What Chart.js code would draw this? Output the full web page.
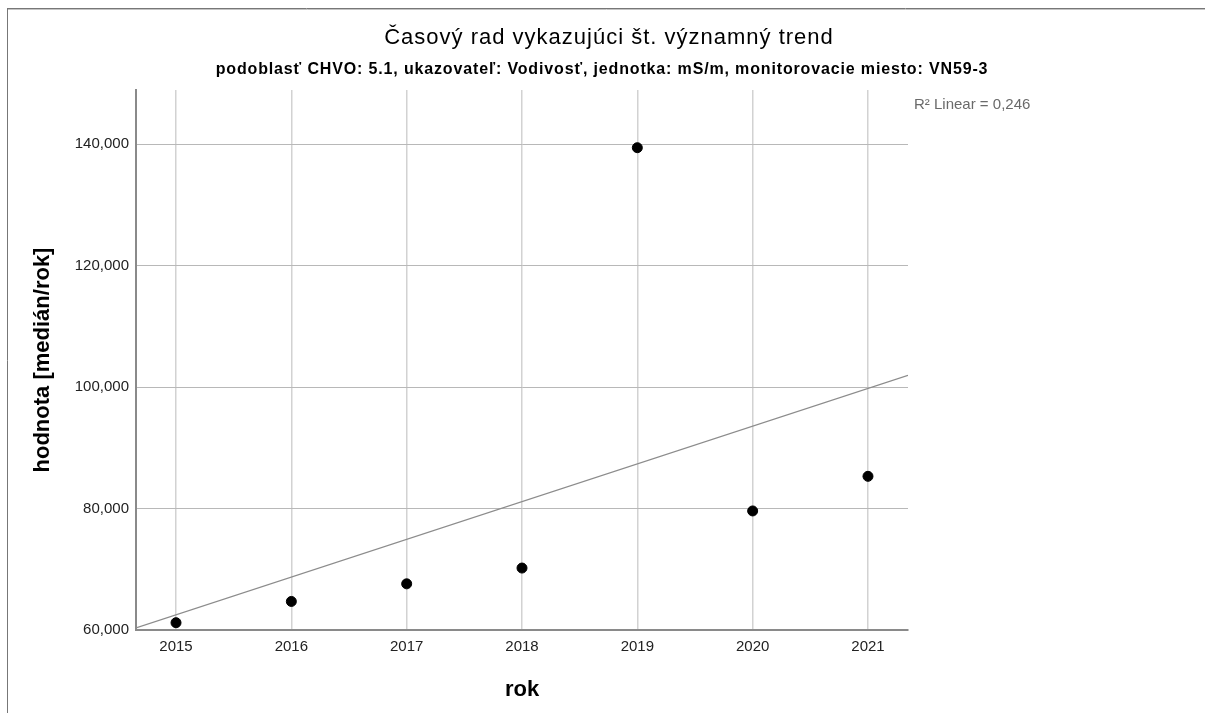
<!DOCTYPE html>
<html>
<head>
<meta charset="utf-8">
<script src="https://cdn.jsdelivr.net/npm/chart.js@4.4.1/dist/chart.umd.min.js"></script>
<style>
html, body { margin:0; padding:0; background:#fff; }
canvas { display:block; }
</style>
</head>
<body>
<canvas id="trendChart" width="1205" height="713"></canvas>
<script>
// data
const years = [2015, 2016, 2017, 2018, 2019, 2020, 2021];
const medians = [61.2, 64.7, 67.6, 70.2, 139.4, 79.6, 85.3];

const yTicks = [60, 80, 100, 120, 140];
const xRange = [2014.653, 2021.347];
const yRange = [60, 148.9];

const chartTitle = "Časový rad vykazujúci št. významný trend";
const chartSubtitle = "podoblasť CHVO: 5.1, ukazovateľ: Vodivosť, jednotka: mS/m, monitorovacie miesto: VN59-3";
const xTitle = "rok";
const yTitle = "hodnota [medián/rok]";

/* ===== linear fit from the points ===== */
function linearFit(xs, ys){
    const n = xs.length;
    const mx = xs.reduce((s,v)=>s+v,0)/n;
    const my = ys.reduce((s,v)=>s+v,0)/n;
    let sxy = 0, sxx = 0, syy = 0;
    for(let i=0;i<n;i++){
        sxy += (xs[i]-mx)*(ys[i]-my);
        sxx += (xs[i]-mx)*(xs[i]-mx);
        syy += (ys[i]-my)*(ys[i]-my);
    }
    const slope = sxy/sxx;
    return { slope, intercept: my - slope*mx, r2: (sxy*sxy)/(sxx*syy) };
}

const fit = linearFit(years, medians);
const fitLine = xRange.map(x => ({ x: x, y: fit.intercept + fit.slope*x }));
const r2Label = "R² Linear = " + fit.r2.toFixed(3).replace(".", ",");

/* ===== frame + header texts ===== */
const decorPlugin = {
    id: "decor",
    beforeDraw(chart){
        const ctx = chart.ctx;
        ctx.save();
        ctx.lineWidth = 1;
        ctx.strokeStyle = "#777";
        ctx.beginPath();
        ctx.moveTo(7, 8.5); ctx.lineTo(1205, 8.5);
        ctx.moveTo(7.5, 8); ctx.lineTo(7.5, 713);
        ctx.stroke();
        ctx.strokeStyle = "#c4c4c4";
        ctx.beginPath();
        ctx.moveTo(8, 9.5); ctx.lineTo(1205, 9.5);
        ctx.stroke();
        ctx.restore();
    },
    afterDraw(chart){
        const ctx = chart.ctx;
        ctx.save();
        ctx.textAlign = "center";
        ctx.textBaseline = "alphabetic";
        ctx.fillStyle = "#000";
        ctx.font = "22px 'Liberation Sans', Arial, sans-serif";
        ctx.letterSpacing = "1px";
        ctx.fillText(chartTitle, 609, 44);
        ctx.font = "bold 16px 'Liberation Sans', Arial, sans-serif";
        ctx.letterSpacing = "0.85px";
        ctx.fillText(chartSubtitle, 602, 74);
        ctx.letterSpacing = "0px";
        ctx.textAlign = "left";
        ctx.fillStyle = "#6a6a6a";
        ctx.font = "15px 'Liberation Sans', Arial, sans-serif";
        ctx.fillText(r2Label, 914, 109);
        ctx.restore();
    }
};

new Chart(document.getElementById("trendChart"), {
    type: "scatter",
    data: {
        datasets: [
            {
                label: "medián",
                data: years.map((y,i) => ({ x: y, y: medians[i] })),
                backgroundColor: "#000",
                borderColor: "#000",
                pointRadius: 5,
                pointHoverRadius: 5
            },
            {
                label: "fit",
                data: fitLine,
                showLine: true,
                borderColor: "#8c8c8c",
                borderWidth: 1.3,
                pointRadius: 0,
                fill: false
            }
        ]
    },
    options: {
        responsive: false,
        animation: false,
        layout: { padding: { left: 8, top: 90, right: 297, bottom: 0 } },
        plugins: {
            legend: { display: false },
            tooltip: { enabled: false }
        },
        scales: {
            x: {
                type: "linear",
                min: xRange[0],
                max: xRange[1],
                afterFit: s => { s.height = 83; },
                afterBuildTicks: s => { s.ticks = years.map(v => ({ value: v })); },
                grid: { color: "#d2d2d2", lineWidth: 1.5, drawTicks: false },
                border: { color: "#8a8a8a", width: 2 },
                ticks: {
                    padding: 8,
                    color: "#222",
                    font: { family: "'Liberation Sans', Arial, sans-serif", size: 15 },
                    callback: v => String(v)
                },
                title: {
                    display: true,
                    text: xTitle,
                    color: "#000",
                    font: { family: "'Liberation Sans', Arial, sans-serif", size: 22, weight: "bold" },
                    padding: { top: 0, bottom: 10 }
                }
            },
            y: {
                min: yRange[0],
                max: yRange[1],
                afterFit: s => { s.width = 128; },
                afterBuildTicks: s => { s.ticks = yTicks.map(v => ({ value: v })); },
                grid: { color: "#b8b8b8", lineWidth: 1, drawTicks: false },
                border: { color: "#8a8a8a", width: 2 },
                ticks: {
                    padding: 7,
                    color: "#222",
                    font: { family: "'Liberation Sans', Arial, sans-serif", size: 15 },
                    callback: v => v.toFixed(3).replace(".", ",")
                },
                title: {
                    display: true,
                    text: yTitle,
                    color: "#000",
                    font: { family: "'Liberation Sans', Arial, sans-serif", size: 22, weight: "bold" },
                    padding: { top: 22, bottom: 0 }
                }
            }
        }
    },
    plugins: [decorPlugin]
});
</script>
</body>
</html>
